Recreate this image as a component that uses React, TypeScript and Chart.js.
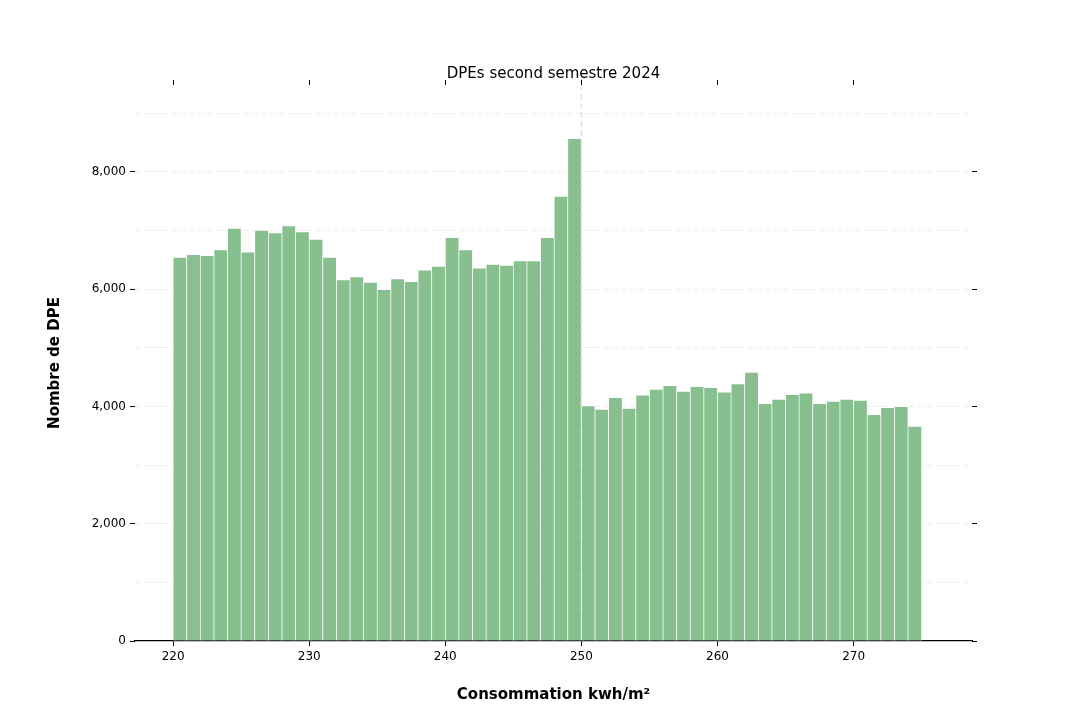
import { useEffect, useRef } from "react";
import { Chart, registerables } from "chart.js";

Chart.register(...registerables);

// left edge of each 1 kWh/m² bin
const BINS = [
    220, 221, 222, 223, 224, 225, 226, 227, 228, 229,
    230, 231, 232, 233, 234, 235, 236, 237, 238, 239,
    240, 241, 242, 243, 244, 245, 246, 247, 248, 249,
    250, 251, 252, 253, 254, 255, 256, 257, 258, 259,
    260, 261, 262, 263, 264, 265, 266, 267, 268, 269,
    270, 271, 272, 273, 274,
];

const COUNTS = [
    6545, 6590, 6573, 6670, 7039, 6635, 7005, 6960, 7079, 6977,
    6852, 6545, 6158, 6209, 6118, 5993, 6175, 6129, 6328, 6391,
    6880, 6670, 6362, 6425, 6408, 6482, 6482, 6880, 7585, 8569,
    4009, 3952, 4151, 3969, 4196, 4293, 4355, 4259, 4338, 4321,
    4247, 4384, 4583, 4048, 4123, 4201, 4230, 4048, 4089, 4123,
    4106, 3861, 3980, 3997, 3662,
];

const X_TICKS = [220, 230, 240, 250, 260, 270];
const Y_GRID = [0, 1000, 2000, 3000, 4000, 5000, 6000, 7000, 8000, 9000];
const Y_LABELED = [0, 2000, 4000, 6000, 8000];
const THRESHOLD = 250;

const X_MIN = 217.2;
const X_MAX = 278.7;
const Y_MAX = 9484;

const BAR_COLOR = "#87bf8f";
const FONT = "'DejaVu Sans', sans-serif";

const thresholdLine = {
    id: "thresholdLine",
    afterDatasetsDraw(chart: Chart) {
        const { ctx, chartArea, scales } = chart;
        const x = scales.x.getPixelForValue(THRESHOLD);
        ctx.save();
        ctx.strokeStyle = "#e2e2e2";
        ctx.lineWidth = 1.5;
        ctx.setLineDash([6, 3]);
        ctx.beginPath();
        ctx.moveTo(x, chartArea.top);
        ctx.lineTo(x, chartArea.bottom);
        ctx.stroke();
        ctx.restore();
    },
};

export default function App() {
    const canvasRef = useRef<HTMLCanvasElement>(null);

    useEffect(() => {
        if (!canvasRef.current) return;

        const xTicks = (scale: any) => {
            scale.ticks = X_TICKS.map(v => ({ value: v }));
        };

        const chart = new Chart(canvasRef.current, {
            type: "bar",
            data: {
                datasets: [{
                    label: "DPE",
                    data: BINS.map((b, i) => ({ x: b + 0.5, y: COUNTS[i] })),
                    backgroundColor: BAR_COLOR,
                    borderColor: "#ffffff",
                    borderWidth: 0.7,
                    barPercentage: 1,
                    categoryPercentage: 1,
                }],
            },
            options: {
                animation: false,
                responsive: true,
                maintainAspectRatio: false,
                layout: { padding: 0 },
                plugins: {
                    legend: { display: false },
                    title: { display: false },
                    tooltip: { enabled: false },
                },
                scales: {
                    x: {
                        type: "linear",
                        position: "bottom",
                        min: X_MIN,
                        max: X_MAX,
                        offset: false,
                        afterBuildTicks: xTicks,
                        afterFit: (s: any) => { s.height = 79; },
                        grid: {
                            offset: false,
                            drawOnChartArea: false,
                            drawTicks: true,
                            tickLength: 5,
                            tickColor: "#000",
                            tickWidth: 1,
                        },
                        border: { display: true, color: "#000", width: 1.3 },
                        ticks: {
                            color: "#000",
                            font: { family: FONT, size: 12 },
                            padding: 4,
                            maxRotation: 0,
                            callback: (v: any) => String(v),
                        },
                        title: {
                            display: true,
                            text: "Consommation kwh/m²",
                            color: "#000",
                            font: { family: FONT, size: 15, weight: "bold" },
                            padding: { top: 0, bottom: 16 },
                        },
                    },
                    x2: {
                        type: "linear",
                        position: "top",
                        min: X_MIN,
                        max: X_MAX,
                        offset: false,
                        afterBuildTicks: xTicks,
                        afterFit: (s: any) => { s.height = 85; },
                        grid: {
                            offset: false,
                            drawOnChartArea: false,
                            drawTicks: true,
                            tickLength: 5,
                            tickColor: "#000",
                        },
                        border: { display: false },
                        ticks: { display: false },
                        title: {
                            display: true,
                            text: "DPEs second semestre 2024",
                            color: "#000",
                            font: { family: FONT, size: 15 },
                            padding: { top: 65, bottom: 0 },
                        },
                    },
                    y: {
                        type: "linear",
                        position: "left",
                        min: 0,
                        max: Y_MAX,
                        afterBuildTicks: (s: any) => {
                            s.ticks = Y_GRID.map(v => ({ value: v }));
                        },
                        afterFit: (s: any) => { s.width = 135; },
                        grid: {
                            color: (c: any) => (c.tick && c.tick.value === 0 ? "rgba(0,0,0,0)" : "#eeeeee"),
                            lineWidth: 1,
                            drawTicks: true,
                            tickLength: 5,
                            tickColor: (c: any) =>
                                c.tick && Y_LABELED.includes(c.tick.value) ? "#000" : "rgba(0,0,0,0)",
                            tickBorderDash: [],
                        },
                        border: { display: false, dash: [6, 3] },
                        ticks: {
                            color: "#000",
                            font: { family: FONT, size: 12 },
                            padding: 4,
                            callback: (v: any) =>
                                Y_LABELED.includes(Number(v)) ? Number(v).toLocaleString("en-US") : "",
                        },
                        title: {
                            display: true,
                            text: "Nombre de DPE",
                            color: "#000",
                            font: { family: FONT, size: 15, weight: "bold" },
                            padding: { top: 46, bottom: 0 },
                        },
                    },
                    y2: {
                        type: "linear",
                        position: "right",
                        min: 0,
                        max: Y_MAX,
                        afterBuildTicks: (s: any) => {
                            s.ticks = Y_LABELED.map(v => ({ value: v }));
                        },
                        afterFit: (s: any) => { s.width = 108; },
                        grid: {
                            drawOnChartArea: false,
                            drawTicks: true,
                            tickLength: 5,
                            tickColor: "#000",
                        },
                        border: { display: false },
                        ticks: { display: false },
                    },
                },
            },
            plugins: [thresholdLine],
        });

        return () => {
            chart.destroy();
        };
    }, []);

    return (
        <div style={{ position: "fixed", left: 0, top: 0, width: 1080, height: 720, background: "#fff" }}>
            <canvas ref={canvasRef}></canvas>
        </div>
    );
}
